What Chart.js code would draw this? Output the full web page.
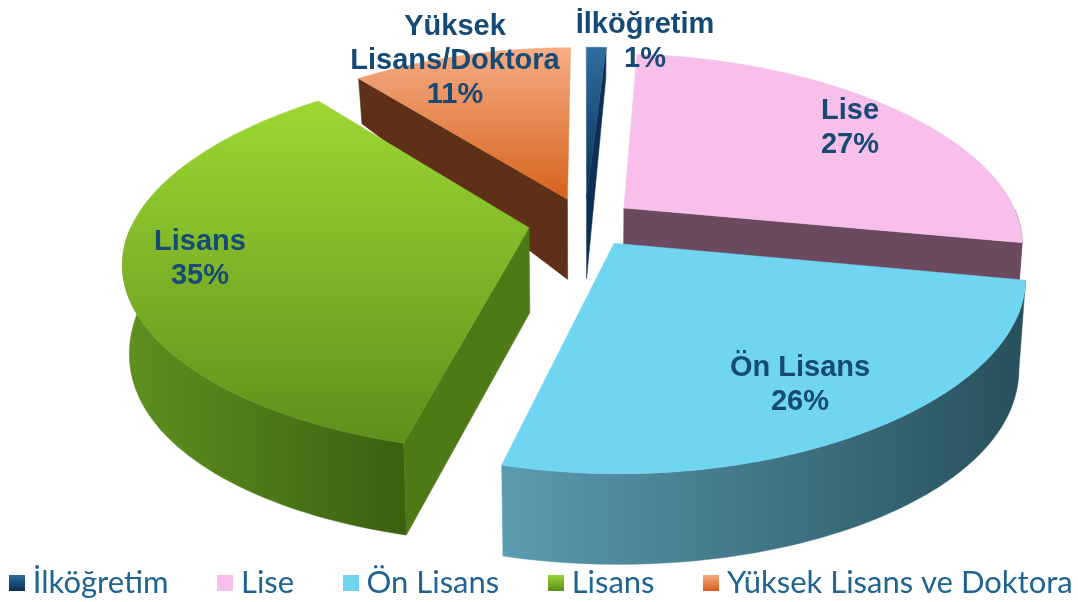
<!DOCTYPE html>
<html lang="tr">
<head>
<meta charset="utf-8">
<style>html,body{margin:0;padding:0;background:#fff}canvas{display:block}</style>
<script src="https://cdn.jsdelivr.net/npm/chart.js@4/dist/chart.umd.min.js"></script>
</head>
<body>
<canvas id="c" width="1078" height="602"></canvas>
<script>
const categories = ['İlköğretim', 'Lise', 'Ön Lisans', 'Lisans', 'Yüksek Lisans ve Doktora'];
const sliceNames = [['İlköğretim'], ['Lise'], ['Ön Lisans'], ['Lisans'], ['Yüksek', 'Lisans/Doktora']];
const shares = [1, 27, 26, 35, 11];

const explode = [13, 12.6, 13.4, 14.4, 13.4];
const topColors = [['#2f6e9f', '#0b2f57'], ['#f7bfea', '#f7bfea'], ['#6fd5f1', '#6fd5f1'], ['#9dd833', '#5f8f1b'], ['#f7ad84', '#d5621d']];
const outerColors = [['#123a63', '#0a2a4c'], ['#6b4a60', '#6b4a60'], ['#5b9bb0', '#27505c'], ['#5f9120', '#3c6010'], ['#6b4028', '#5a2a0e']];
const innerColors = ['#0d2f55', '#6b4a60', '#4f92a8', '#4e7a16', '#5f3018'];
const labelCenters = [[645, 25], [850, 111], [800, 368], [200, 242], [455, 27]];
const labelFill = '#154a75';
const legendFill = '#1f6391';
const legendGap = '      ';

const CX = 585, CY = 222, RX = 396, RY = 184;
function project(U, V, h) {
  const px = 0.185 - 0.035 * V;
  let x = CX + RX * U / (1 - px * V);
  let y = CY + RY * V / (1 - 0.1675 * V);
  if (h) {
    x = CX + (x - CX) * 0.985;
    y += 83.8 + 26.6 * V - 18.4 * V * V;
  }
  return [x, y];
}
function polygon(ctx, pts, fill) {
  ctx.beginPath();
  pts.forEach((p, i) => i ? ctx.lineTo(p[0], p[1]) : ctx.moveTo(p[0], p[1]));
  ctx.closePath();
  ctx.fillStyle = fill;
  ctx.fill();
  ctx.strokeStyle = fill;
  ctx.lineWidth = 0.5;
  ctx.stroke();
}
function swatch(colors) {
  const s = document.createElement('canvas');
  s.width = 16; s.height = 16;
  const g = s.getContext('2d');
  const grad = g.createLinearGradient(0, 0, 0, 16);
  grad.addColorStop(0, colors[0]); grad.addColorStop(1, colors[1]);
  g.fillStyle = grad; g.fillRect(0, 0, 16, 16);
  return s;
}

const pie3d = {
  id: 'pie3d',
  beforeDatasetDraw(chart, args) {
    const ctx = chart.ctx;
    const arcs = chart.getDatasetMeta(args.index).data;
    const order = arcs.map((a, i) => i).sort((a, b) => {
      const m = k => (arcs[k].startAngle + arcs[k].endAngle) / 2;
      return Math.sin(m(a)) - Math.sin(m(b));
    });
    order.forEach(i => {
      const arc = arcs[i];
      const d = arc.options.offset / 100;
      const mid = (arc.startAngle + arc.endAngle) / 2;
      const ou = Math.cos(mid) * d, ov = Math.sin(mid) * d;
      const rim = [], front = [];
      const n = Math.max(4, Math.round((arc.endAngle - arc.startAngle) / 0.02));
      for (let k = 0; k <= n; k++) {
        const a = arc.startAngle + (arc.endAngle - arc.startAngle) * k / n;
        const q = [ou + Math.cos(a), ov + Math.sin(a)];
        rim.push(q);
        if (Math.sin(a) > -0.01) front.push(q);
      }
      const P = (q, h) => project(q[0], q[1], h);
      const apex = [ou, ov];
      const first = rim[0], last = rim[n];
      const xs = rim.map(q => P(q, 0)[0]);
      if (front.length > 1) {
        const ox = ctx.createLinearGradient(Math.min(...xs), 0, Math.max(...xs), 0);
        ox.addColorStop(0, outerColors[i][0]); ox.addColorStop(1, outerColors[i][1]);
        polygon(ctx, front.map(q => P(q, 0)).concat(front.slice().reverse().map(q => P(q, 1))), ox);
      }
      if (-Math.cos(arc.startAngle) > 1e-6) {
        polygon(ctx, [P(apex, 0), P(first, 0), P(first, 1), P(apex, 1)], innerColors[i]);
      }
      if (Math.cos(arc.endAngle) > 1e-6) {
        polygon(ctx, [P(apex, 0), P(last, 0), P(last, 1), P(apex, 1)], innerColors[i]);
      }
      const topPts = [P(apex, 0)].concat(rim.map(q => P(q, 0)));
      const ys = topPts.map(p => p[1]);
      const tg = ctx.createLinearGradient(0, Math.min(...ys), 0, Math.max(...ys));
      tg.addColorStop(0, topColors[i][0]); tg.addColorStop(1, topColors[i][1]);
      polygon(ctx, topPts, tg);
    });
    return false;
  },
  afterDraw(chart) {
    const ctx = chart.ctx;
    ctx.save();
    ctx.font = 'bold 29px "Liberation Sans", Arial, sans-serif';
    ctx.fillStyle = labelFill;
    ctx.textAlign = 'center';
    ctx.textBaseline = 'middle';
    shares.forEach((v, i) => {
      const lines = sliceNames[i].concat([v + '%']);
      lines.forEach((t, k) => ctx.fillText(t, labelCenters[i][0], labelCenters[i][1] + k * 33.8));
    });
    ctx.restore();
  }
};

new Chart(document.getElementById('c'), {
  type: 'pie',
  data: {
    labels: categories,
    datasets: [{ data: shares, offset: explode, backgroundColor: topColors.map(c => c[0]), borderWidth: 0 }]
  },
  options: {
    responsive: false,
    animation: false,
    layout: { padding: { left: 5.5, right: -5.5, top: 0, bottom: -6 } },
    plugins: {
      tooltip: { enabled: false },
      legend: {
        position: 'bottom',
        labels: {
          color: legendFill,
          font: { family: 'Lato', size: 31, weight: '400' },
          usePointStyle: true,
          boxWidth: 1,
          boxHeight: 16,
          padding: 8.3,
          generateLabels: chart => categories.map((t, i) => ({
            text: i < categories.length - 1 ? t + legendGap : t,
            pointStyle: swatch(topColors[i]), fontColor: legendFill,
            datasetIndex: 0, index: i, hidden: false, lineWidth: 0
          }))
        }
      }
    }
  },
  plugins: [pie3d]
});
</script>
</body>
</html>
